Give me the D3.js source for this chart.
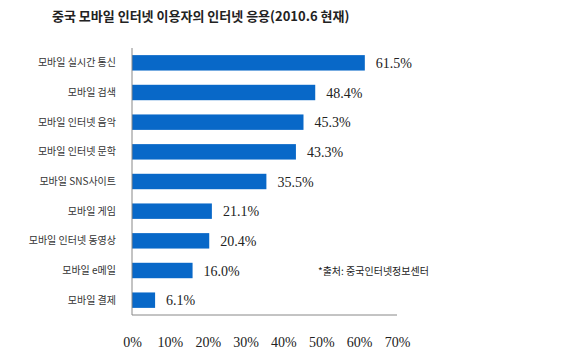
<!DOCTYPE html>
<html>
<head>
<meta charset="utf-8">
<script src="https://cdn.jsdelivr.net/npm/d3@7/dist/d3.min.js"></script>
<style>
  html, body { margin: 0; padding: 0; background: #fff; }
  svg { display: block; }
</style>
</head>
<body>
<svg id="chart" width="570" height="356"></svg>
<script>
const title = "중국 모바일 인터넷 이용자의 인터넷 응용(2010.6 현재)";
const categories = ["모바일 실시간 통신", "모바일 검색", "모바일 인터넷 음악", "모바일 인터넷 문학", "모바일 SNS사이트", "모바일 게임", "모바일 인터넷 동영상", "모바일 e메일", "모바일 결제"];
const values = [61.5, 48.4, 45.3, 43.3, 35.5, 21.1, 20.4, 16.0, 6.1];
const tickValues = [0, 10, 20, 30, 40, 50, 60, 70];
const sourceNote = "*출처: 중국인터넷정보센터";

const svg = d3.select("#chart");
const plotLeft = 132, plotRight = 397, plotTop = 48, plotBottom = 315;

const x = d3.scaleLinear().domain([0, 70]).range([plotLeft, plotRight]);
const y = d3.scaleBand().domain(categories).range([plotTop, plotBottom]).paddingInner(0.48).paddingOuter(0.24);

const kfont = "'Noto Sans CJK KR', 'Noto Sans', sans-serif";
const serif = "'Liberation Serif', 'Times New Roman', serif";

// title
svg.append("text")
  .attr("x", 52).attr("y", 21)
  .attr("font-family", kfont).attr("font-weight", "bold")
  .attr("font-size", 13).attr("fill", "#222")
  .text(title);

// bars
svg.selectAll("rect.bar").data(categories).enter().append("rect")
  .attr("class", "bar")
  .attr("x", x(0))
  .attr("y", d => y(d))
  .attr("width", (d, i) => x(values[i]) - x(0))
  .attr("height", y.bandwidth())
  .attr("fill", "#0868c8");

// value labels
svg.selectAll("text.val").data(categories).enter().append("text")
  .attr("class", "val")
  .attr("x", (d, i) => x(values[i]) + 11)
  .attr("y", d => y(d) + y.bandwidth() / 2 + 5)
  .attr("font-family", serif).attr("font-size", 14).attr("fill", "#222")
  .text((d, i) => values[i].toFixed(1) + "%");

// category labels
svg.selectAll("text.cat").data(categories).enter().append("text")
  .attr("class", "cat")
  .attr("x", 116)
  .attr("y", d => y(d) + y.bandwidth() / 2 + 3.5)
  .attr("text-anchor", "end")
  .attr("font-family", kfont).attr("font-size", 10).attr("fill", "#333")
  .text(d => d);

// axis lines
svg.append("line")
  .attr("x1", plotLeft).attr("x2", plotLeft).attr("y1", plotTop).attr("y2", plotBottom)
  .attr("stroke", "#888").attr("stroke-width", 1);
svg.append("line")
  .attr("x1", plotLeft).attr("x2", plotRight).attr("y1", plotBottom).attr("y2", plotBottom)
  .attr("stroke", "#888").attr("stroke-width", 1);

// x tick labels
const xAxis = d3.axisBottom(x).tickValues(tickValues).tickSize(0).tickFormat(d => d + "%");
const gx = svg.append("g").attr("transform", `translate(0, ${plotBottom + 19})`).call(xAxis);
gx.select(".domain").remove();
gx.selectAll("text")
  .attr("font-family", serif).attr("font-size", 14).attr("fill", "#222");

// source note
svg.append("text")
  .attr("x", 318).attr("y", 275)
  .attr("font-family", kfont).attr("font-size", 10).attr("fill", "#222")
  .text(sourceNote);
</script>
</body>
</html>
